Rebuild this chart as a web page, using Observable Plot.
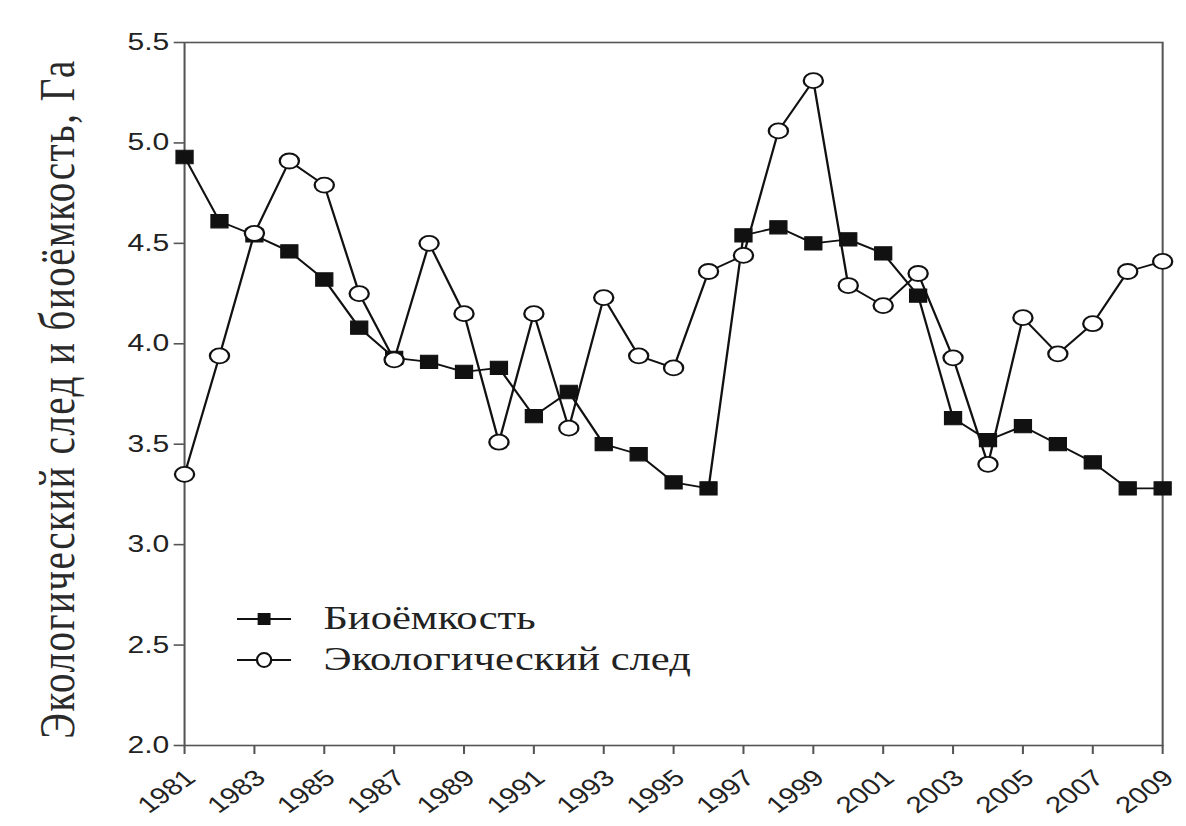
<!DOCTYPE html>
<html><head><meta charset="utf-8">
<script src="https://cdn.jsdelivr.net/npm/d3@7"></script>
<script src="https://cdn.jsdelivr.net/npm/@observablehq/plot@0.6"></script>
<style>
body{margin:0;background:#fff;}
#wrap{position:relative;width:1186px;height:826px;overflow:hidden;}
#wrap > svg{display:block;}
#legend{position:absolute;left:237px;top:598px;font-family:"Liberation Serif",serif;font-size:33px;color:#222;transform:scaleX(1.29);transform-origin:0 0;}
#legend div{display:flex;align-items:center;height:41px;}
#legend svg{margin-right:25px;}
</style>
</head><body>
<div id="wrap"><div id="legend"></div></div>
<script>
const years = d3.range(1981, 2010);
const bioCapacity = [4.93,4.61,4.54,4.46,4.32,4.08,3.93,3.91,3.86,3.88,3.64,3.76,3.50,3.45,3.31,3.28,4.54,4.58,4.50,4.52,4.45,4.24,3.63,3.52,3.59,3.50,3.41,3.28,3.28];
const footprint = [3.35,3.94,4.55,4.91,4.79,4.25,3.92,4.50,4.15,3.51,4.15,3.58,4.23,3.94,3.88,4.36,4.44,5.06,5.31,4.29,4.19,4.35,3.93,3.40,4.13,3.95,4.10,4.36,4.41];
const xTicks = d3.range(1981, 2010, 2);
const yTicks = [2.0,2.5,3.0,3.5,4.0,4.5,5.0,5.5];
const seriesNames = ["Биоёмкость","Экологический след"];
const yLabel = "Экологический след и биоёмкость, Га";

const K = 1.28; // horizontal stretch of the original figure
const W = 1186, H = 826;

const bio = years.map((y,i)=>({year:y, v:bioCapacity[i]}));
const fp = years.map((y,i)=>({year:y, v:footprint[i]}));

const chart = Plot.plot({
  width:Math.round(W/K), height:H,
  marginLeft:184/K, marginRight:24/K, marginTop:42, marginBottom:81,
  style:{fontFamily:"'Liberation Sans', Arial, sans-serif", background:"#fff"},
  x:{domain:[1981,2009]},
  y:{domain:[2,5.5]},
  marks:[
    Plot.frame({stroke:"#555", strokeWidth:1.6}),
    Plot.axisX({ticks:xTicks, tickFormat:()=>"", tickSize:9, stroke:"#555", strokeWidth:1.6, label:null}),
    Plot.text(xTicks, {x:d=>d, text:d=>String(d), frameAnchor:"bottom", rotate:-42, textAnchor:"end", lineAnchor:"middle", dx:5, dy:29, fontSize:23, fill:"#222"}),
    Plot.axisY({ticks:yTicks, tickFormat:d=>d.toFixed(1), fontSize:23.5, tickSize:8, tickPadding:4, stroke:"#555", strokeWidth:1.6, label:null, fill:"#222"}),
    Plot.text([yLabel], {frameAnchor:"left", text:d=>d, rotate:-90, textAnchor:"middle", dx:-99, dy:5, fontSize:39, fontFamily:"'Liberation Serif', serif", fill:"#2a2a2a"}),
    Plot.line(bio, {x:"year", y:"v", stroke:"#111", strokeWidth:1.8}),
    Plot.line(fp, {x:"year", y:"v", stroke:"#111", strokeWidth:1.8}),
    Plot.dot(bio, {x:"year", y:"v", symbol:"square", r:7.5, fill:"#111", stroke:"#111", strokeWidth:1}),
    Plot.dot(fp, {x:"year", y:"v", symbol:"circle", r:7.5, fill:"#fff", stroke:"#111", strokeWidth:1.8})
  ]
});
chart.setAttribute("width", W);
chart.setAttribute("preserveAspectRatio", "none");
chart.style.width = W + "px";
chart.style.maxWidth = "none";
d3.select(chart).selectAll("text").filter(function(){ return this.textContent === yLabel; }).style("letter-spacing","1.5px");
document.getElementById("wrap").prepend(chart);

const leg = d3.select("#legend");
seriesNames.forEach((name,i)=>{
  const row = leg.append("div");
  const s = row.append("svg").attr("width",42).attr("height",30);
  s.append("line").attr("x1",0).attr("x2",42).attr("y1",15).attr("y2",15).attr("stroke","#111").attr("stroke-width",1.8);
  if(i===0) s.append("rect").attr("x",16).attr("y",9).attr("width",10).attr("height",12).attr("fill","#111");
  else s.append("ellipse").attr("cx",21).attr("cy",15).attr("rx",5.5).attr("ry",7).attr("fill","#fff").attr("stroke","#111").attr("stroke-width",1.8);
  row.append("span").text(name);
});
</script>
</body></html>
